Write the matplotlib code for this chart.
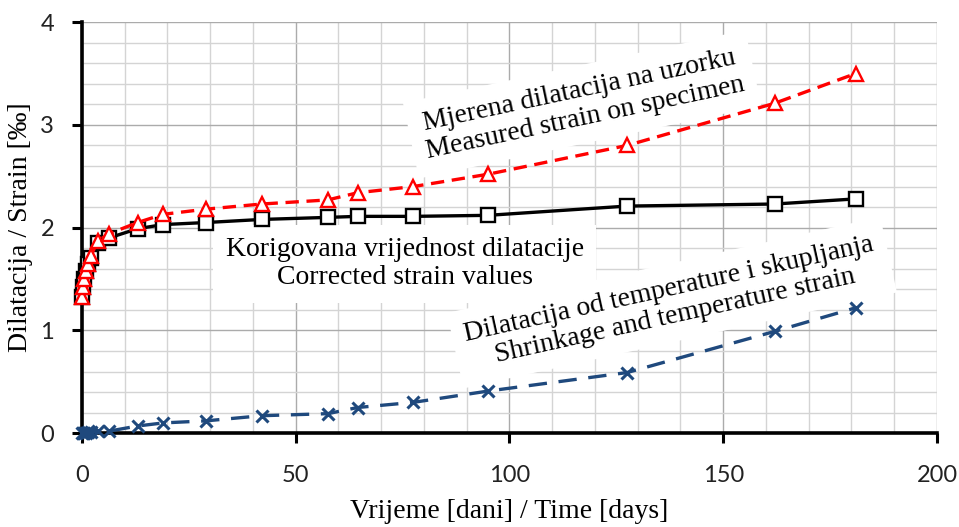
import numpy as np
import matplotlib
matplotlib.use("Agg")
import matplotlib.pyplot as plt
from matplotlib.ticker import MultipleLocator

# time in days
days = [0, 0.25, 0.5, 1, 1.5, 2, 3.7, 6.3, 13, 19, 29, 42, 57.5, 64.5, 77.5, 95, 127.5, 162, 181]

# strain values [permille]
measured = [1.33, 1.42, 1.50, 1.58, 1.65, 1.72, 1.87, 1.94, 2.05, 2.13, 2.18, 2.23, 2.27, 2.34, 2.40, 2.52, 2.80, 3.21, 3.50]
corrected = [1.33, 1.42, 1.50, 1.58, 1.65, 1.70, 1.85, 1.90, 1.99, 2.03, 2.05, 2.08, 2.10, 2.11, 2.11, 2.12, 2.21, 2.23, 2.28]
shrinkage = [0.0, 0.0, 0.0, 0.005, 0.01, 0.01, 0.02, 0.02, 0.07, 0.10, 0.12, 0.17, 0.19, 0.25, 0.30, 0.41, 0.59, 0.99, 1.22]

serif = "Liberation Serif"
tick_font = "Lato"
blue = "#1F497D"

fig = plt.figure(figsize=(9.59, 5.27), dpi=100)
ax = fig.add_axes([0.0855, 0.178, 0.8915, 0.78])

ax.plot(days, corrected, color="black", lw=2.4, marker="s", ms=10,
        mfc="white", mec="black", mew=1.7, clip_on=False, zorder=3)
ax.plot(days, measured, color="red", lw=2.4, dashes=(4, 2.3), marker="^", ms=10,
        mfc="white", mec="red", mew=1.7, clip_on=False, zorder=4)
ax.plot(days, shrinkage, color=blue, lw=2.4, dashes=(5.5, 3.5), marker="x", ms=8.5,
        mec=blue, mew=2.2, clip_on=False, zorder=3)

ax.set_xlim(0, 200)
ax.set_ylim(0, 4)
ax.xaxis.set_major_locator(MultipleLocator(50))
ax.xaxis.set_minor_locator(MultipleLocator(10))
ax.yaxis.set_major_locator(MultipleLocator(1))
ax.yaxis.set_minor_locator(MultipleLocator(0.2))

ax.set_axisbelow(True)
ax.grid(which="major", color="#ababab", lw=1.0)
ax.grid(which="minor", color="#d4d4d4", lw=1.0)

for s in ["top", "right"]:
    ax.spines[s].set_visible(False)
for s in ["left", "bottom"]:
    ax.spines[s].set_linewidth(2.6)
    ax.spines[s].set_zorder(2.5)

ax.tick_params(which="major", length=7, width=2.2, direction="out")
ax.tick_params(which="minor", length=0)
ax.tick_params(axis="x", pad=16)
ax.tick_params(axis="y", pad=13)
for lab in ax.get_xticklabels() + ax.get_yticklabels():
    lab.set_fontfamily(tick_font)
    lab.set_fontsize(17)
    lab.set_color("#222222")

ax.set_xlabel("Vrijeme [dani] / Time [days]", fontfamily=serif, fontsize=20, labelpad=9)
ax.set_ylabel("Dilatacija / Strain [‰]", fontfamily=serif, fontsize=20, labelpad=5)

box = dict(facecolor="white", edgecolor="none", pad=9)
ax.text(117, 3.2, "Mjerena dilatacija na uzorku\nMeasured strain on specimen",
        fontfamily=serif, fontsize=20, rotation=12, rotation_mode="anchor",
        ha="center", va="center", multialignment="center", linespacing=1.12,
        bbox=box, zorder=1.5)
ax.text(75.5, 1.65, "Korigovana vrijednost dilatacije\nCorrected strain values",
        fontfamily=serif, fontsize=20, ha="center", va="center",
        multialignment="center", linespacing=1.15, bbox=box, zorder=1.5)
ax.text(138, 1.27, "Dilatacija od temperature i skupljanja\nShrinkage and temperature strain",
        fontfamily=serif, fontsize=20, rotation=12.5, rotation_mode="anchor",
        ha="center", va="center", multialignment="center", linespacing=1.12,
        bbox=box, zorder=1.5)

fig.savefig("out.png", dpi=100)
